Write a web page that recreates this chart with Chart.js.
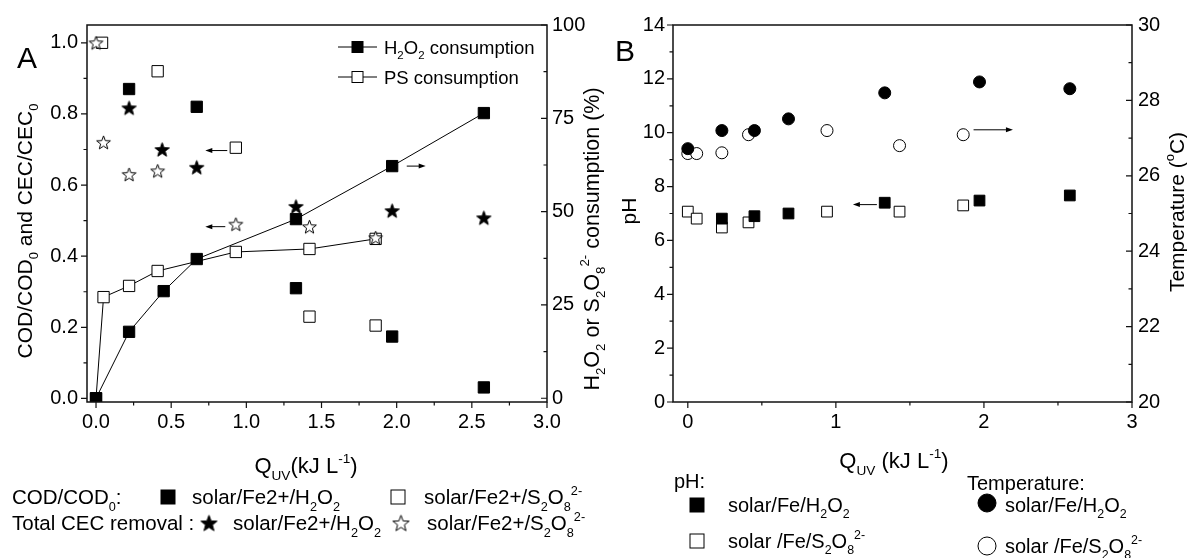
<!DOCTYPE html>
<html>
<head>
<meta charset="utf-8">
<script src="https://cdn.jsdelivr.net/npm/chart.js@4.4.1/dist/chart.umd.min.js"></script>
<style>
  html, body { margin: 0; padding: 0; background: #fff; }
  #wrap { position: relative; width: 1187px; height: 558px; overflow: hidden; }
  canvas { position: absolute; top: 0; }
  #cA { left: 0; }
  #cB { left: 600px; }
</style>
</head>
<body>
<div id="wrap">
  <canvas id="cA" width="640" height="558"></canvas>
  <canvas id="cB" width="587" height="558"></canvas>
</div>
<script>
const FONT = "'Liberation Sans', Arial, Helvetica, sans-serif";

// ---- Panel A: COD, CEC removal and oxidant consumption vs Q_UV (kJ/L) ----
const qCodH2O2 = [0.22, 0.67, 1.33, 1.97, 2.58];
const codH2O2  = [0.87, 0.82, 0.31, 0.174, 0.031];
const qCodPs   = [0.04, 0.41, 0.93, 1.42, 1.86];
const codPs    = [1.0, 0.92, 0.705, 0.23, 0.205];
const qCecH2O2 = [0.22, 0.44, 0.67, 1.33, 1.97, 2.58];
const cecH2O2  = [0.817, 0.70, 0.65, 0.54, 0.528, 0.508];
const qCecPs   = [0, 0.05, 0.22, 0.41, 0.93, 1.42, 1.86];
const cecPs    = [1.0, 0.72, 0.63, 0.64, 0.49, 0.483, 0.452];
const qConsH2O2 = [0, 0.22, 0.45, 0.67, 1.33, 1.97, 2.58];
const consH2O2  = [0, 17.8, 28.7, 37.3, 48.0, 62.2, 76.4];
const qConsPs   = [0, 0.05, 0.22, 0.41, 0.93, 1.42, 1.86];
const consPs    = [0, 27.1, 30.1, 34.1, 39.2, 40.0, 42.7];

// ---- Panel B: pH and temperature vs Q_UV ----
const qTempH2O2 = [0, 0.23, 0.45, 0.68, 1.33, 1.97, 2.58];
const tempH2O2  = [26.72, 27.2, 27.2, 27.51, 28.2, 28.49, 28.31];
const qTempPs   = [0, 0.06, 0.23, 0.41, 0.94, 1.43, 1.86];
const tempPs    = [26.59, 26.59, 26.61, 27.09, 27.2, 26.8, 27.09];
const qPhH2O2   = [0.23, 0.45, 0.68, 1.33, 1.97, 2.58];
const phH2O2    = [6.81, 6.9, 7.0, 7.4, 7.48, 7.67];
const qPhPs     = [0, 0.06, 0.23, 0.41, 0.94, 1.43, 1.86];
const phPs      = [7.07, 6.81, 6.48, 6.67, 7.07, 7.07, 7.3];

// ---- Tick values ----
const xTicksA  = [0, 0.5, 1.0, 1.5, 2.0, 2.5, 3.0];
const yTicksA  = [0, 0.2, 0.4, 0.6, 0.8, 1.0];
const y2TicksA = [0, 25, 50, 75, 100];
const xTicksB  = [0, 1, 2, 3];
const phTicks  = [0, 2, 4, 6, 8, 10, 12, 14];
const tempTicks = [20, 22, 24, 26, 28, 30];

const pts = (xs, ys) => xs.map((x, i) => ({ x, y: ys[i] }));
const mids = (t) => t.slice(1).map((v, i) => (v + t[i]) / 2);

// five-pointed star marker
function starImg(filled, R) {
  const s = Math.ceil(R * 2 + 4);
  const c = document.createElement('canvas');
  c.width = c.height = s;
  const g = c.getContext('2d');
  g.translate(s / 2, s / 2 + R * 0.095);
  g.beginPath();
  for (let i = 0; i < 10; i++) {
    const r = i % 2 ? R * 0.42 : R;
    const a = -Math.PI / 2 + i * Math.PI / 5;
    g.lineTo(r * Math.cos(a), r * Math.sin(a));
  }
  g.closePath();
  g.fillStyle = filled ? '#000' : '#fff';
  g.fill();
  g.lineWidth = 1;
  g.strokeStyle = '#000';
  g.stroke();
  return c;
}
const starFilled = starImg(true, 7.5);
const starOpen = starImg(false, 7.2);

function marker(style, filled, r) {
  return {
    pointStyle: style, pointRadius: r, pointHoverRadius: r,
    pointBackgroundColor: filled ? '#000' : '#fff',
    pointBorderColor: '#000', pointBorderWidth: 1,
    backgroundColor: filled ? '#000' : '#fff', borderColor: '#000'
  };
}

// text with sub/superscript parts; y is the centre of the capitals
function rich(ctx, parts, x, y, size, align) {
  let w = 0;
  const segs = parts.map(p => {
    const t = Array.isArray(p) ? p[0] : p;
    const k = Array.isArray(p) ? (p[1] || '') : '';
    const fs = k ? size * 0.62 : size;
    ctx.font = fs + 'px ' + FONT;
    const sw = ctx.measureText(t).width;
    const s = { t, k, fs, x: w };
    w += sw;
    return s;
  });
  const x0 = align === 'center' ? x - w / 2 : align === 'right' ? x - w : x;
  const base = y + size * 0.36;
  ctx.textBaseline = 'alphabetic';
  ctx.textAlign = 'left';
  ctx.fillStyle = '#000';
  segs.forEach(s => {
    ctx.font = s.fs + 'px ' + FONT;
    const dy = s.k === 'sub' ? size * 0.3 : s.k === 'sup' ? -size * 0.45 : 0;
    ctx.fillText(s.t, x0 + s.x, base + dy);
  });
  return w;
}
function richV(ctx, parts, x, y, size) {
  ctx.save();
  ctx.translate(x, y);
  ctx.rotate(-Math.PI / 2);
  rich(ctx, parts, 0, 0, size, 'center');
  ctx.restore();
}

function frame(ctx, a) {
  ctx.save();
  ctx.strokeStyle = '#111';
  ctx.lineWidth = 1.5;
  ctx.strokeRect(a.left, a.top, a.right - a.left, a.bottom - a.top);
  ctx.restore();
}
// side: 'bottom' (outward), 'left' (outward), 'right' (inward)
function ticks(ctx, scale, values, len, side, a) {
  ctx.save();
  ctx.strokeStyle = '#111';
  ctx.lineWidth = 1.2;
  ctx.beginPath();
  values.forEach(v => {
    const p = scale.getPixelForValue(v);
    if (side === 'bottom') { ctx.moveTo(p, a.bottom); ctx.lineTo(p, a.bottom + len); }
    else if (side === 'left') { ctx.moveTo(a.left, p); ctx.lineTo(a.left - len, p); }
    else { ctx.moveTo(a.right, p); ctx.lineTo(a.right - len, p); }
  });
  ctx.stroke();
  ctx.restore();
}
function arrow(ctx, x1, y1, x2, y2) {
  ctx.save();
  ctx.strokeStyle = '#000';
  ctx.fillStyle = '#000';
  ctx.lineWidth = 1;
  const dir = Math.sign(x2 - x1);
  ctx.beginPath();
  ctx.moveTo(x1, y1);
  ctx.lineTo(x2 - dir * 5, y2);
  ctx.stroke();
  ctx.beginPath();
  ctx.moveTo(x2, y2);
  ctx.lineTo(x2 - dir * 7, y2 - 2.5);
  ctx.lineTo(x2 - dir * 7, y2 + 2.5);
  ctx.closePath();
  ctx.fill();
  ctx.restore();
}
function legendMarker(ctx, kind, x, y, s) {
  ctx.save();
  ctx.strokeStyle = '#000';
  ctx.lineWidth = 1;
  if (kind === 'sqF' || kind === 'sqO') {
    ctx.fillStyle = kind === 'sqF' ? '#000' : '#fff';
    ctx.fillRect(x - s / 2, y - s / 2, s, s);
    ctx.strokeRect(x - s / 2, y - s / 2, s, s);
  } else if (kind === 'ciF' || kind === 'ciO') {
    ctx.fillStyle = kind === 'ciF' ? '#000' : '#fff';
    ctx.beginPath();
    ctx.arc(x, y, s / 2, 0, Math.PI * 2);
    ctx.fill();
    ctx.stroke();
  } else {
    const img = starImg(kind === 'stF', s / 2);
    ctx.drawImage(img, x - img.width / 2, y - img.height / 2);
  }
  ctx.restore();
}

const tickFont = { size: 20, family: FONT };
const noGrid = { display: false, drawTicks: false };
const noBorder = { display: false };

// ---------------- Panel A ----------------
const H2O2 = [['H'], ['2', 'sub'], ['O'], ['2', 'sub']];
const S2O8 = [['S'], ['2', 'sub'], ['O'], ['8', 'sub'], ['2-', 'sup']];

new Chart(document.getElementById('cA'), {
  type: 'scatter',
  data: {
    datasets: [
      { label: 'CEC solar/Fe2+/S2O8', data: pts(qCecPs, cecPs), yAxisID: 'y', pointStyle: starOpen, pointRadius: 8 },
      { label: 'CEC solar/Fe2+/H2O2', data: pts(qCecH2O2, cecH2O2), yAxisID: 'y', pointStyle: starFilled, pointRadius: 8 },
      Object.assign({ label: 'COD solar/Fe2+/H2O2', data: pts(qCodH2O2, codH2O2), yAxisID: 'y' }, marker('rect', true, 8)),
      Object.assign({ label: 'COD solar/Fe2+/S2O8', data: pts(qCodPs, codPs), yAxisID: 'y' }, marker('rect', false, 8)),
      Object.assign({ label: 'H2O2 consumption', data: pts(qConsH2O2, consH2O2), yAxisID: 'y2', showLine: true, borderWidth: 1 }, marker('rect', true, 8)),
      Object.assign({ label: 'PS consumption', data: pts(qConsPs, consPs), yAxisID: 'y2', showLine: true, borderWidth: 1 }, marker('rect', false, 8))
    ]
  },
  options: {
    responsive: false, animation: false, events: [],
    layout: { padding: { left: 0, top: 25, right: 0, bottom: 116 } },
    plugins: { legend: { display: false }, tooltip: { enabled: false } },
    scales: {
      x: {
        type: 'linear', position: 'bottom', min: -0.06, max: 3.0,
        afterFit: s => { s.height = 40; },
        afterBuildTicks: s => { s.ticks = xTicksA.map(v => ({ value: v })); },
        grid: noGrid, border: noBorder,
        ticks: { padding: 8, color: '#000', font: tickFont, maxRotation: 0, autoSkip: false, callback: v => Number(v).toFixed(1) }
      },
      y: {
        type: 'linear', position: 'left', min: -0.01, max: 1.05,
        afterFit: s => { s.width = 87; },
        afterBuildTicks: s => { s.ticks = yTicksA.map(v => ({ value: v })); },
        grid: noGrid, border: noBorder,
        ticks: { padding: 9, color: '#000', font: tickFont, autoSkip: false, callback: v => Number(v).toFixed(1) }
      },
      y2: {
        type: 'linear', position: 'right', min: -1, max: 100,
        afterFit: s => { s.width = 93; },
        afterBuildTicks: s => { s.ticks = y2TicksA.map(v => ({ value: v })); },
        grid: noGrid, border: noBorder,
        ticks: { padding: 5, color: '#000', font: tickFont, autoSkip: false, callback: v => String(v) }
      }
    }
  },
  plugins: [{
    id: 'decorA',
    afterDraw(chart) {
      const ctx = chart.ctx, a = chart.chartArea;
      const sx = chart.scales.x, sy = chart.scales.y, sy2 = chart.scales.y2;
      frame(ctx, a);
      ticks(ctx, sx, xTicksA, 6, 'bottom', a);
      ticks(ctx, sx, mids(xTicksA), 3.5, 'bottom', a);
      ticks(ctx, sy, yTicksA, 6, 'left', a);
      ticks(ctx, sy, mids(yTicksA), 3.5, 'left', a);
      ticks(ctx, sy2, y2TicksA, 6, 'right', a);
      ticks(ctx, sy2, mids(y2TicksA), 3.5, 'right', a);

      // arrows pointing to the axis each series belongs to
      arrow(ctx, sx.getPixelForValue(0.873), sy.getPixelForValue(0.697), sx.getPixelForValue(0.727), sy.getPixelForValue(0.697));
      arrow(ctx, sx.getPixelForValue(0.86), sy.getPixelForValue(0.483), sx.getPixelForValue(0.727), sy.getPixelForValue(0.483));
      arrow(ctx, sx.getPixelForValue(2.067), sy2.getPixelForValue(62.2), sx.getPixelForValue(2.193), sy2.getPixelForValue(62.2));

      // panel letter
      rich(ctx, ['A'], 27, 57, 30, 'center');

      // in-plot legend
      ctx.save();
      ctx.strokeStyle = '#000'; ctx.lineWidth = 1;
      ctx.beginPath();
      ctx.moveTo(338, 47); ctx.lineTo(377, 47);
      ctx.moveTo(338, 77); ctx.lineTo(377, 77);
      ctx.stroke();
      ctx.restore();
      legendMarker(ctx, 'sqF', 357.5, 47, 11);
      legendMarker(ctx, 'sqO', 357.5, 77, 11);
      rich(ctx, H2O2.concat([' consumption']), 384, 47, 18.5, 'left');
      rich(ctx, ['PS consumption'], 384, 77, 18.5, 'left');

      // axis titles
      richV(ctx, [['COD/COD'], ['0', 'sub'], [' and CEC/CEC'], ['0', 'sub']], 24, 231, 21);
      richV(ctx, H2O2.concat([[' or ']], S2O8, [[' consumption (%)']]), 591, 239, 21.5);
      rich(ctx, [['Q'], ['UV', 'sub'], ['(kJ L'], ['-1', 'sup'], [')']], 306, 465, 22, 'center');

      // series key below the plot
      const y1 = 497, y2 = 523;
      rich(ctx, [['COD/COD'], ['0', 'sub'], [':']], 12, y1, 20.5, 'left');
      legendMarker(ctx, 'sqF', 168, y1, 14);
      rich(ctx, [['solar/Fe2+/']].concat(H2O2), 192, y1, 20.5, 'left');
      legendMarker(ctx, 'sqO', 398, y1, 14);
      rich(ctx, [['solar/Fe2+/']].concat(S2O8), 424, y1, 20.5, 'left');
      rich(ctx, ['Total CEC removal :'], 12, y2, 20.5, 'left');
      legendMarker(ctx, 'stF', 209, y2, 17);
      rich(ctx, [['solar/Fe2+/']].concat(H2O2), 233, y2, 20.5, 'left');
      legendMarker(ctx, 'stO', 401, y2, 17);
      rich(ctx, [['solar/Fe2+/']].concat(S2O8), 427, y2, 20.5, 'left');
    }
  }]
});

// ---------------- Panel B ----------------
new Chart(document.getElementById('cB'), {
  type: 'scatter',
  data: {
    datasets: [
      Object.assign({ label: 'T solar/Fe/H2O2', data: pts(qTempH2O2, tempH2O2), yAxisID: 'yT' }, marker('circle', true, 6)),
      Object.assign({ label: 'T solar/Fe/S2O8', data: pts(qTempPs, tempPs), yAxisID: 'yT' }, marker('circle', false, 6)),
      Object.assign({ label: 'pH solar/Fe/H2O2', data: pts(qPhH2O2, phH2O2), yAxisID: 'y' }, marker('rect', true, 7.6)),
      Object.assign({ label: 'pH solar/Fe/S2O8', data: pts(qPhPs, phPs), yAxisID: 'y' }, marker('rect', false, 7.6))
    ]
  },
  options: {
    responsive: false, animation: false, events: [],
    layout: { padding: { left: 0, top: 25, right: 0, bottom: 116 } },
    plugins: { legend: { display: false }, tooltip: { enabled: false } },
    scales: {
      x: {
        type: 'linear', position: 'bottom', min: -0.1, max: 3,
        afterFit: s => { s.height = 40; },
        afterBuildTicks: s => { s.ticks = xTicksB.map(v => ({ value: v })); },
        grid: noGrid, border: noBorder,
        ticks: { padding: 8, color: '#000', font: tickFont, maxRotation: 0, autoSkip: false, callback: v => String(v) }
      },
      y: {
        type: 'linear', position: 'left', min: 0, max: 14,
        afterFit: s => { s.width = 73; },
        afterBuildTicks: s => { s.ticks = phTicks.map(v => ({ value: v })); },
        grid: noGrid, border: noBorder,
        ticks: { padding: 8, color: '#000', font: tickFont, autoSkip: false, callback: v => String(v) }
      },
      yT: {
        type: 'linear', position: 'right', min: 20, max: 30,
        afterFit: s => { s.width = 55; },
        afterBuildTicks: s => { s.ticks = tempTicks.map(v => ({ value: v })); },
        grid: noGrid, border: noBorder,
        ticks: { padding: 6, color: '#000', font: tickFont, autoSkip: false, callback: v => String(v) }
      }
    }
  },
  plugins: [{
    id: 'decorB',
    afterDraw(chart) {
      const ctx = chart.ctx, a = chart.chartArea;
      const sx = chart.scales.x, sy = chart.scales.y, sT = chart.scales.yT;
      frame(ctx, a);
      ticks(ctx, sx, xTicksB, 6, 'bottom', a);
      ticks(ctx, sx, mids(xTicksB), 3.5, 'bottom', a);
      ticks(ctx, sy, phTicks, 6, 'left', a);
      ticks(ctx, sy, mids(phTicks), 3.5, 'left', a);
      ticks(ctx, sT, tempTicks, 6, 'right', a);
      ticks(ctx, sT, mids(tempTicks), 3.5, 'right', a);

      arrow(ctx, sx.getPixelForValue(1.277), sy.getPixelForValue(7.33), sx.getPixelForValue(1.115), sy.getPixelForValue(7.33));
      arrow(ctx, sx.getPixelForValue(1.93), sT.getPixelForValue(27.22), sx.getPixelForValue(2.196), sT.getPixelForValue(27.22));

      rich(ctx, ['B'], 25, 50, 30, 'center');

      richV(ctx, ['pH'], 28, 211, 21);
      richV(ctx, [['Temperature ('], ['o', 'sup'], ['C)']], 576, 212, 21);
      rich(ctx, [['Q'], ['UV', 'sub'], [' (kJ L'], ['-1', 'sup'], [')']], 294, 460, 22, 'center');

      const H2 = [['H'], ['2', 'sub'], ['O'], ['2', 'sub']];
      const S8 = [['S'], ['2', 'sub'], ['O'], ['8', 'sub'], ['2-', 'sup']];
      rich(ctx, ['pH:'], 74, 481, 20, 'left');
      legendMarker(ctx, 'sqF', 97, 505, 14);
      rich(ctx, [['solar/Fe/']].concat(H2), 128, 505, 20, 'left');
      legendMarker(ctx, 'sqO', 97, 541, 14);
      rich(ctx, [['solar /Fe/']].concat(S8), 128, 541, 20, 'left');

      rich(ctx, ['Temperature:'], 367, 483, 20, 'left');
      legendMarker(ctx, 'ciF', 387, 503, 18);
      rich(ctx, [['solar/Fe/']].concat(H2), 405, 505, 20, 'left');
      legendMarker(ctx, 'ciO', 387, 546, 18);
      rich(ctx, [['solar /Fe/']].concat(S8), 405, 546, 20, 'left');
    }
  }]
});
</script>
</body>
</html>
